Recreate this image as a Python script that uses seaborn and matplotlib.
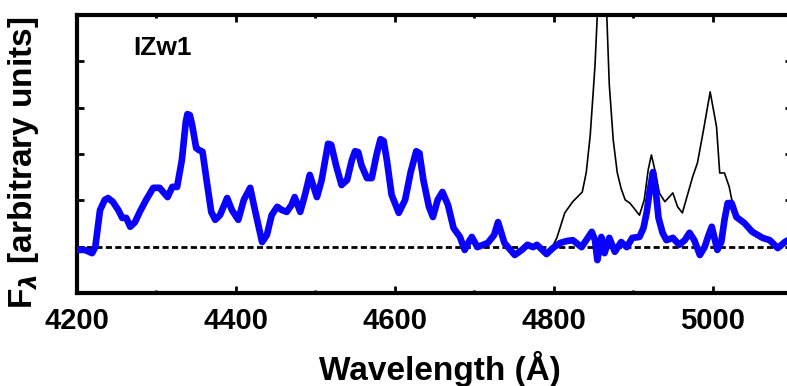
import numpy as np
import pandas as pd
import matplotlib
matplotlib.use("Agg")
import matplotlib.pyplot as plt
import seaborn as sns

# Fe II template (blue): wavelength (Angstrom) and flux (arbitrary units)
fe_wave = [4200, 4210, 4219, 4223, 4229, 4235, 4239, 4245, 4252, 4257, 4262, 4267,
           4273, 4279, 4287, 4296, 4304, 4314, 4320, 4326, 4332, 4337, 4339, 4342,
           4345, 4350, 4353, 4358, 4364, 4369, 4374, 4380, 4389, 4395, 4403, 4410,
           4418, 4424, 4433, 4439, 4445, 4452, 4458, 4464, 4470, 4474, 4481, 4487,
           4493, 4502, 4508, 4516, 4520, 4526, 4533, 4540, 4546, 4550, 4554, 4558,
           4565, 4571, 4577, 4582, 4586, 4590, 4596, 4605, 4613, 4620, 4627, 4631,
           4636, 4643, 4648, 4654, 4660, 4667, 4674, 4682, 4688, 4693, 4697, 4704,
           4717, 4725, 4730, 4735, 4738, 4751, 4760, 4767, 4774, 4779, 4791, 4799,
           4808, 4816, 4824, 4830, 4835, 4841, 4848, 4852, 4855, 4860, 4864, 4870,
           4877, 4885, 4892, 4899, 4908, 4913, 4917, 4921, 4925, 4929, 4932, 4937,
           4942, 4950, 4958, 4965, 4971, 4977, 4984, 4990, 4995, 4999, 5006, 5011,
           5015, 5019, 5024, 5030, 5040, 5050, 5063, 5072, 5082, 5091, 5100]
fe_flux = [-0.07, -0.07, -0.14, -0.01, 0.79, 1.01, 1.05, 0.97, 0.79, 0.62, 0.62, 0.43,
           0.53, 0.75, 1.01, 1.27, 1.27, 1.07, 1.29, 1.29, 1.87, 2.70, 2.86, 2.84,
           2.62, 2.13, 2.09, 2.05, 1.33, 0.75, 0.58, 0.68, 1.05, 0.79, 0.58, 1.01,
           1.27, 0.79, 0.10, 0.25, 0.68, 0.86, 0.79, 0.75, 0.90, 1.07, 0.75, 1.12,
           1.55, 1.07, 1.44, 2.22, 2.20, 1.76, 1.33, 1.44, 1.87, 2.06, 2.04, 1.76,
           1.48, 1.48, 1.98, 2.32, 2.28, 1.87, 1.12, 0.73, 1.01, 1.61, 2.06, 2.02,
           1.44, 0.86, 0.64, 1.01, 1.18, 0.90, 0.40, 0.21, -0.07, 0.10, 0.21, -0.01,
           0.08, 0.25, 0.53, 0.25, 0.08, -0.18, -0.07, 0.04, -0.01, 0.04, -0.16, -0.03,
           0.08, 0.12, 0.14, 0.06, -0.01, 0.14, 0.32, 0.14, -0.29, 0.21, -0.14, 0.19,
           -0.11, 0.10, -0.01, 0.19, 0.21, 0.40, 0.73, 1.22, 1.61, 1.12, 0.62, 0.30,
           0.14, 0.19, 0.04, 0.14, 0.30, 0.14, -0.18, -0.01, 0.25, 0.43, -0.07, 0.10,
           0.58, 0.94, 0.94, 0.64, 0.51, 0.32, 0.19, 0.14, -0.03, 0.10, 0.19]

# Observed spectrum (black) where it departs from the template: H-beta and [O III]
line_wave = [4797, 4804, 4814, 4824, 4836, 4841, 4846, 4852, 4856, 4861, 4866,
             4870, 4875, 4880, 4885, 4890, 4896, 4908, 4914, 4919, 4923, 4928,
             4933, 4940, 4950, 4956, 4962, 4975, 4981, 4988, 4997, 5005, 5009,
             5015, 5021, 5025]
line_flux = [-0.05, 0.19, 0.73, 0.97, 1.18, 1.60, 2.40, 3.90, 5.40, 6.50, 5.40,
             3.50, 2.30, 1.60, 1.25, 1.01, 0.94, 0.68, 1.01, 1.66, 1.98, 1.61,
             1.16, 0.97, 1.16, 0.86, 0.73, 1.51, 1.81, 2.46, 3.34, 2.59, 1.59,
             1.59, 1.29, 0.94]

x_ticks = [4200, 4400, 4600, 4800, 5000]
x_minor = [4300, 4500, 4700, 4900]
y_ticks = [0, 1, 2, 3, 4, 5]

sns.set_theme(style="ticks")
plt.rcParams["font.family"] = ["Liberation Sans", "DejaVu Sans"]
plt.rcParams["font.weight"] = "bold"
plt.rcParams["mathtext.fontset"] = "dejavusans"
for key in ("text.color", "axes.labelcolor", "xtick.color", "ytick.color",
            "axes.edgecolor"):
    plt.rcParams[key] = "black"

fe = pd.DataFrame({"wave": fe_wave, "flux": fe_flux})
w0, w1 = line_wave[0], line_wave[-1]
obs = pd.concat([
    fe[fe["wave"] < w0],
    pd.DataFrame({"wave": line_wave, "flux": line_flux}),
    fe[fe["wave"] > w1],
], ignore_index=True)

fig = plt.figure(figsize=(7.87, 3.86), dpi=100)
ax = fig.add_axes([77 / 787, 93 / 386, 715 / 787, 278 / 386])

ax.axhline(0, color="black", lw=2.0, dashes=(2.2, 1.2), zorder=1)
sns.lineplot(data=obs, x="wave", y="flux", sort=False, estimator=None,
             color="black", lw=1.2, ax=ax, zorder=2)
sns.lineplot(data=fe, x="wave", y="flux", sort=False, estimator=None,
             color="#0a00ff", lw=4.8, ax=ax, zorder=3,
             solid_joinstyle="round", solid_capstyle="round")

ax.set_xlim(4200, 5100)
ax.set_ylim(-1, 5)
ax.set_xticks(x_ticks)
ax.set_xticks(x_minor, minor=True)
ax.set_yticks(y_ticks)
ax.set_yticklabels([])
ax.set_xticklabels([str(t) for t in x_ticks], fontsize=21, fontweight="bold",
                   color="black")

ax.tick_params(axis="both", which="major", direction="in", length=5, width=2,
               top=True, right=True, pad=10, color="black", labelcolor="black")
ax.tick_params(axis="x", which="minor", direction="in", length=2, width=2,
               top=True, color="black")
for side in ax.spines.values():
    side.set_linewidth(3)
    side.set_color("black")

ax.set_xlabel("Wavelength (Å)", fontsize=24, fontweight="bold", color="black")
ax.xaxis.set_label_coords((440 - 77) / 715, -0.21)
ax.set_ylabel(r"F$_{\lambda}$ [arbitrary units]", fontsize=24, fontweight="bold",
              color="black")
ax.yaxis.set_label_coords(-0.05, 0.47)

ax.text(0.078, 0.856, "IZw1", transform=ax.transAxes, fontsize=19,
        fontweight="bold", ha="left", va="baseline", color="black")

fig.savefig("out.png", dpi=100)
